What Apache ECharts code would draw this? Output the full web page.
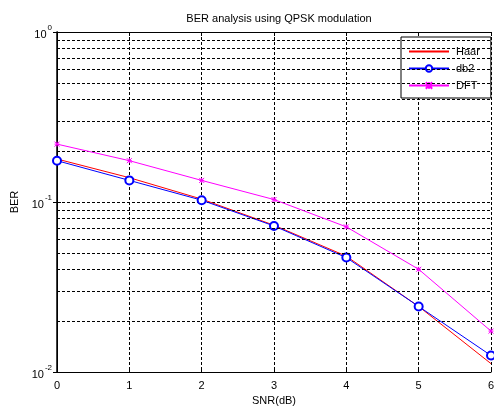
<!DOCTYPE html>
<html>
<head>
<meta charset="utf-8">
<script src="https://cdn.jsdelivr.net/npm/echarts@6/dist/echarts.min.js"></script>
<style>
  html, body { margin: 0; padding: 0; background: #fff; }
  #chart { width: 494px; height: 407px; }
</style>
</head>
<body>
<div id="chart"></div>
<script>
// SNR values (dB) on the x axis
var snr = [0, 1, 2, 3, 4, 5, 6];
// BER curves
var haar = [0.179, 0.139, 0.104, 0.073, 0.048, 0.0243, 0.0112];
var db2  = [0.175, 0.134, 0.1025, 0.0723, 0.0471, 0.0243, 0.0125];
var dft  = [0.219, 0.175, 0.134, 0.1034, 0.0714, 0.0402, 0.0174];
// minor grid lines of the log axis
var minorGrid = [0.02, 0.03, 0.04, 0.05, 0.06, 0.07, 0.08, 0.09,
                 0.2, 0.3, 0.4, 0.5, 0.6, 0.7, 0.8, 0.9];

var font = 'Liberation Sans, Arial, Helvetica, sans-serif';

function pairs(ys) {
    return snr.map(function (x, i) { return [x, ys[i]]; });
}

var dashed = { color: '#000', width: 1, type: [3, 2] };

var chart = echarts.init(document.getElementById('chart'));
chart.setOption({
    animation: false,
    backgroundColor: '#fff',
    textStyle: { fontFamily: font },
    title: {
        text: 'BER analysis using QPSK modulation',
        left: 274, top: 8, textAlign: 'center',
        textStyle: { fontSize: 11, fontWeight: 'normal', color: '#000', fontFamily: font }
    },
    grid: { left: 57, right: 3, top: 32, bottom: 35, containLabel: false, outerBoundsMode: 'none' },
    legend: {
        data: [
            { name: 'Haar', itemStyle: { opacity: 0 } },
            { name: 'db2' },
            { name: 'DFT' }
        ],
        orient: 'vertical',
        left: 401, top: 37,
        padding: [9, 11, 7, 7],
        itemWidth: 40, itemHeight: 8, itemGap: 6,
        align: 'left',
        borderColor: '#000', borderWidth: 1,
        backgroundColor: '#fff',
        textStyle: { fontSize: 11, color: '#000', fontFamily: font, padding: [0, 0, 0, 2] }
    },
    xAxis: [{
        type: 'value', min: 0, max: 6, interval: 1,
        name: 'SNR(dB)', nameLocation: 'middle', nameGap: 22,
        nameTextStyle: { fontSize: 11, color: '#000', fontFamily: font },
        axisLine: { lineStyle: { color: '#000', width: 1 } },
        axisTick: { inside: true, length: 4, lineStyle: { color: '#000' } },
        axisLabel: { fontSize: 11, color: '#000', margin: 8, fontFamily: font },
        splitLine: { show: true, lineStyle: dashed }
    }, {
        type: 'value', min: 0, max: 6, interval: 1, position: 'top',
        axisLine: { show: true, lineStyle: { color: '#000', width: 1 } },
        axisTick: { inside: true, length: 4, lineStyle: { color: '#000' } },
        axisLabel: { show: false },
        splitLine: { show: false }
    }],
    yAxis: [{
        type: 'log', logBase: 10, min: 0.01, max: 1,
        name: 'BER', nameLocation: 'middle', nameGap: 30,
        nameTextStyle: { fontSize: 11, color: '#000', fontFamily: font },
        axisLine: { show: true, lineStyle: { color: '#000', width: 1.5 } },
        axisTick: { show: true, inside: true, length: 4, lineStyle: { color: '#000' } },
        axisLabel: {
            color: '#000', margin: 5,
            formatter: function (v) {
                var e = Math.round(Math.log10(v));
                return '{b|10}{s|' + e + '}';
            },
            rich: {
                b: { fontSize: 11, color: '#000', fontFamily: font, padding: [6, 0, 0, 0] },
                s: { fontSize: 8, color: '#000', fontFamily: font, padding: [0, 0, 8, 1] }
            }
        },
        splitLine: { show: true, lineStyle: dashed }
    }, {
        type: 'log', logBase: 10, min: 0.01, max: 1, position: 'right',
        axisLine: { show: true, lineStyle: { color: '#000', width: 1 } },
        axisTick: { show: true, inside: true, length: 4, lineStyle: { color: '#000' } },
        axisLabel: { show: false },
        splitLine: { show: false }
    }],
    series: [{
        name: 'Haar', type: 'line',
        data: pairs(haar),
        showSymbol: false, symbol: 'none',
        lineStyle: { color: '#ff0000', width: 1 },
        itemStyle: { color: '#ff0000' },
        z: 3,
        markLine: {
            silent: true, symbol: 'none', animation: false,
            label: { show: false },
            lineStyle: dashed,
            data: minorGrid.map(function (v) { return { yAxis: v }; })
        }
    }, {
        name: 'db2', type: 'line',
        data: pairs(db2),
        symbol: 'emptyCircle', symbolSize: 8,
        lineStyle: { color: '#0000ff', width: 1 },
        itemStyle: { color: '#0000ff', borderColor: '#0000ff', borderWidth: 1 },
        z: 4
    }, {
        name: 'DFT', type: 'line',
        data: pairs(dft),
        symbol: 'path://M0,0L10,10M10,0L0,10M5,0L5,10M0,5L10,5', symbolSize: 5,
        lineStyle: { color: '#ff00ff', width: 1 },
        itemStyle: { color: '#ff00ff', borderColor: '#ff00ff', borderWidth: 1 },
        z: 5
    }]
});
</script>
</body>
</html>
